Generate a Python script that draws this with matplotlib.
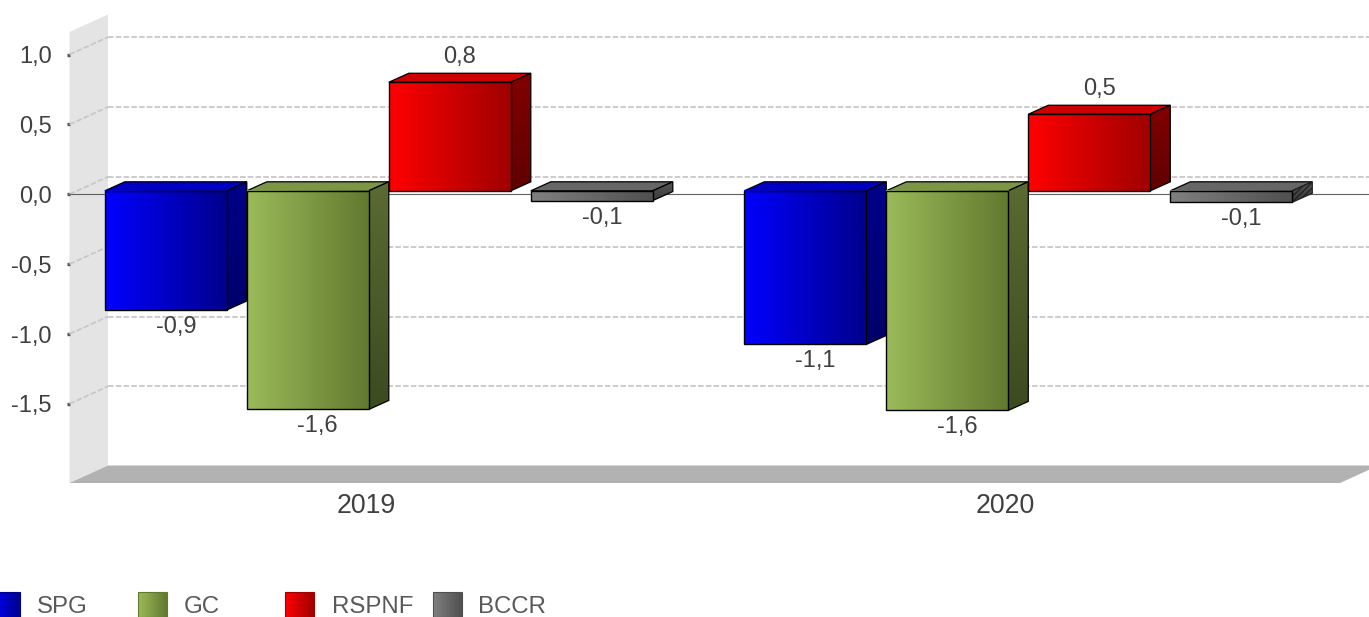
import numpy as np
import matplotlib
matplotlib.use("Agg")
import matplotlib.pyplot as plt
from matplotlib.patches import Polygon, Rectangle
from matplotlib.colors import LinearSegmentedColormap

# ---- data ----
years = ["2019", "2020"]
series = ["SPG", "GC", "RSPNF", "BCCR"]
spg = [-0.853, -1.10]
gc = [-1.565, -1.572]
rspnf = [0.777, 0.548]
bccr = [-0.07, -0.082]
y_ticks = [-1.5, -1.0, -0.5, 0.0, 0.5, 1.0]

# ---- styles: front gradient start/end, top, side start/end ----
styles = {
    "SPG": ("#0000ff", "#00008c", "#0000c4", "#00008a", "#00006a"),
    "GC": ("#9bbb59", "#62792f", "#7c9647", "#5a6b32", "#3c4b20"),
    "RSPNF": ("#ff0000", "#a00000", "#cc0000", "#820000", "#600000"),
    "BCCR": ("#808080", "#505050", "#666666", "#555555", "#3a3a3a"),
}
values = {"SPG": spg, "GC": gc, "RSPNF": rspnf, "BCCR": bccr}
TXT = "#404040"
FONT = "Liberation Sans"

W, H = 1369, 617
fig = plt.figure(figsize=(W / 100, H / 100), dpi=100, facecolor="white")
plt.rcParams["font.family"] = FONT
L, R, T, B = 69.5, 1340, 14, 483
ax = fig.add_axes([L / W, 1 - B / H, (R - L) / W, (B - T) / H])
PXY = 139.7
PXX = 639.5
Y0, X0 = 194.3, 378.8
ax.set_xlim((L - X0) / PXX, (R - X0) / PXX)
ax.set_ylim((Y0 - B) / PXY, (Y0 - T) / PXY)
xl, yl = ax.get_xlim(), ax.get_ylim()
for s in ax.spines.values():
    s.set_visible(False)
ax.patch.set_visible(False)

DX, DY = 38.5 / PXX, 17.5 / PXY      # chart depth
BX, BY = 20 / PXX, 9 / PXY           # bar depth
BASE = 3.5 / PXY                     # bars sit slightly behind the front plane
STEP, WIDTH = 142 / PXX, 122 / PXX
y_top = (Y0 - 32) / PXY
x_end = xl[1] + DX

# walls
ax.add_patch(Polygon([(xl[0], yl[0]), (xl[0], y_top), (xl[0] + DX, y_top + DY), (xl[0] + DX, yl[0] + DY)],
                     fc="#e4e4e4", ec="none", zorder=1, clip_on=False))
ax.add_patch(Polygon([(xl[0], yl[0]), (xl[0] + DX, yl[0] + DY), (x_end, yl[0] + DY), (xl[1], yl[0])],
                     fc="#b2b2b2", ec="none", zorder=1, clip_on=False))

# grid
for v in y_ticks:
    ax.plot([xl[0] + DX, x_end], [v + DY, v + DY], color="#c8c8c8", lw=1.3, dashes=(3.1, 1.2), zorder=2, clip_on=False)
    ax.plot([xl[0], xl[0] + DX], [v, v + DY], color="#c8c8c8", lw=1.3, dashes=(3.1, 1.2), zorder=2, clip_on=False)
ax.plot([xl[0], x_end], [0, 0], color="#606060", lw=0.8, zorder=2.5, clip_on=False)


def gradient(c0, c1, vertical=False):
    cm = LinearSegmentedColormap.from_list("g", [c0, c1])
    g = np.linspace(0, 1, 128)
    return cm(g[:, None] if vertical else g[None, :])


z = 3.0
for name_i, name in enumerate(series):
    c0, c1, top, s0, s1 = styles[name]
    for cat, val in enumerate(values[name]):
        x0 = cat + (name_i - 1.5) * STEP - WIDTH / 2 + 0.0
        x1 = x0 + WIDTH
        lo, hi = sorted((BASE, BASE + val))
        z += 0.1
        # top face
        ax.add_patch(Polygon([(x0, hi), (x1, hi), (x1 + BX, hi + BY), (x0 + BX, hi + BY)],
                             fc=top, ec="#000000", lw=0.9, zorder=z, clip_on=False))
        # side face
        side = Polygon([(x1, lo), (x1 + BX, lo + BY), (x1 + BX, hi + BY), (x1, hi)],
                       fc="none", ec="#000000", lw=0.9, zorder=z + 0.02, clip_on=False)
        ax.add_patch(side)
        im = ax.imshow(gradient(s0, s1, True), extent=(x1, x1 + BX, lo, hi + BY), aspect="auto",
                       origin="upper", zorder=z + 0.01)
        im.set_clip_path(side)
        if name == "BCCR" and cat == 1:
            side.set_hatch("//////")
            side.set_edgecolor("#222222")
        # front face
        ax.imshow(gradient(c0, c1), extent=(x0, x1, lo, hi), aspect="auto", zorder=z + 0.03)
        ax.add_patch(Rectangle((x0, lo), WIDTH, hi - lo, fc="none", ec="#000000", lw=1.0,
                               zorder=z + 0.04, clip_on=False))
        # value label
        lab = f"{val:.1f}".replace(".", ",")
        xc = (x0 + x1) / 2 + BX / 2
        if val >= 0:
            ax.annotate(lab, (xc, hi), xytext=(0, 25 * 0.72), textcoords="offset points", ha="center",
                        va="center", fontsize=17, color=TXT, zorder=50)
        else:
            ax.annotate(lab, (xc, lo), xytext=(0, -17 * 0.72), textcoords="offset points", ha="center",
                        va="center", fontsize=17, color=TXT, zorder=50)

ax.set_xlim(xl)
ax.set_ylim(yl)

# axes ticks
ax.set_yticks(y_ticks)
ax.set_yticklabels([f"{v:.1f}".replace(".", ",") for v in y_ticks], fontsize=17, color=TXT)
ax.tick_params(axis="y", length=2.2, width=2.4, color="#555555", pad=10.5)
ax.set_xticks(np.arange(len(years)) - 12.8 / PXX)
ax.set_xticklabels(years, fontsize=19.2, color=TXT)
ax.tick_params(axis="x", length=0, pad=7)

# legend
lax = fig.add_axes([0, 0, 1, 1])
lax.set_xlim(0, W)
lax.set_ylim(H, 0)
lax.axis("off")
swatch_x = [-9, 138, 285, 433]
label_x = [36.5, 183.5, 331.5, 477.5]
for name, sx, tx in zip(series, swatch_x, label_x):
    c0, c1, *_ = styles[name]
    lax.imshow(gradient(c0, c1), extent=(sx, sx + 29, 617, 592), aspect="auto", zorder=2)
    lax.add_patch(Rectangle((sx, 592), 29, 25, fc="none", ec=c1, lw=0.8, zorder=3, clip_on=False))
    lax.text(tx, 607, name, fontsize=17.3, color="#595959", va="center", ha="left")
lax.set_xlim(0, W)
lax.set_ylim(H, 0)

fig.savefig("out.png", dpi=100, facecolor="white")
